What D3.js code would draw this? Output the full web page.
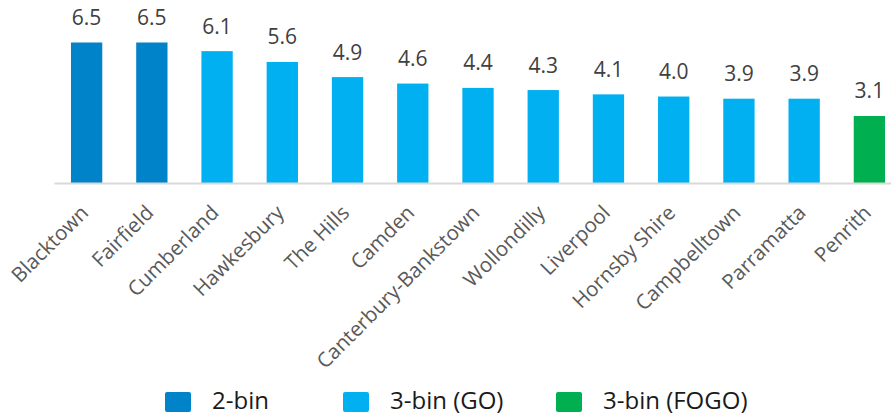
<!DOCTYPE html>
<html>
<head>
<meta charset="utf-8">
<script src="https://cdn.jsdelivr.net/npm/d3@7"></script>
<style>
  body { margin: 0; background: #fff; }
  text { font-family: "Open Sans", "Noto Sans", sans-serif; }
</style>
</head>
<body>
<script>
// data
var councils = ["Blacktown", "Fairfield", "Cumberland", "Hawkesbury", "The Hills", "Camden",
    "Canterbury-Bankstown", "Wollondilly", "Liverpool", "Hornsby Shire", "Campbelltown",
    "Parramatta", "Penrith"];
var values = [6.5, 6.5, 6.1, 5.6, 4.9, 4.6, 4.4, 4.3, 4.1, 4.0, 3.9, 3.9, 3.1];
var binType = ["2-bin", "2-bin", "3-bin (GO)", "3-bin (GO)", "3-bin (GO)", "3-bin (GO)",
    "3-bin (GO)", "3-bin (GO)", "3-bin (GO)", "3-bin (GO)", "3-bin (GO)", "3-bin (GO)",
    "3-bin (FOGO)"];
var legendKeys = ["2-bin", "3-bin (GO)", "3-bin (FOGO)"];

var width = 891, height = 416;

var color = d3.scaleOrdinal()
    .domain(legendKeys)
    .range(["#0083c8", "#00b0f0", "#00b050"]);

var x = d3.scaleBand().domain(councils).range([54, 902]).paddingInner(0.52).paddingOuter(0.26);
var y = d3.scaleLinear().domain([0, 6.5]).range([183, 42.5]);

var svg = d3.select("body").append("svg")
    .attr("width", width)
    .attr("height", height);

// bars
svg.selectAll(".bar")
    .data(councils)
    .enter().append("rect")
    .attr("class", "bar")
    .attr("x", function(d) { return x(d); })
    .attr("width", x.bandwidth())
    .attr("y", function(d, i) { return y(values[i]); })
    .attr("height", function(d, i) { return y(0) - y(values[i]); })
    .attr("fill", function(d, i) { return color(binType[i]); });

// value labels
svg.selectAll(".val")
    .data(councils)
    .enter().append("text")
    .attr("class", "val")
    .attr("x", function(d) { return x(d) + x.bandwidth() / 2; })
    .attr("y", function(d, i) { return y(values[i]) - 17.5; })
    .attr("text-anchor", "middle")
    .style("font-size", "21px")
    .style("fill", "#404040")
    .text(function(d, i) { return values[i].toFixed(1); });

// x axis
var xAxis = svg.append("g")
    .attr("transform", "translate(0," + y(0) + ")")
    .call(d3.axisBottom(x).tickSize(0).tickSizeOuter(0));
xAxis.select(".domain").attr("stroke", "#d9d9d9").attr("stroke-width", 2);
xAxis.selectAll("text")
    .attr("text-anchor", "end")
    .attr("dy", 0)
    .attr("y", 0)
    .attr("transform", "translate(3,31) rotate(-45)")
    .style("font-size", "20.5px")
    .style("fill", "#595959")
    .style("font-family", "'Open Sans', sans-serif");

// legend
var legendX = [165, 343, 556];
var legend = svg.selectAll(".legend")
    .data(legendKeys)
    .enter().append("g")
    .attr("class", "legend")
    .attr("transform", function(d, i) { return "translate(" + legendX[i] + ",392)"; });

legend.append("rect")
    .attr("width", 26)
    .attr("height", 20)
    .attr("rx", 2)
    .attr("fill", function(d) { return color(d); });

legend.append("text")
    .attr("x", 47)
    .attr("y", 17)
    .style("font-size", "24px")
    .style("fill", "#1a1a1a")
    .text(function(d) { return d; });
</script>
</body>
</html>
